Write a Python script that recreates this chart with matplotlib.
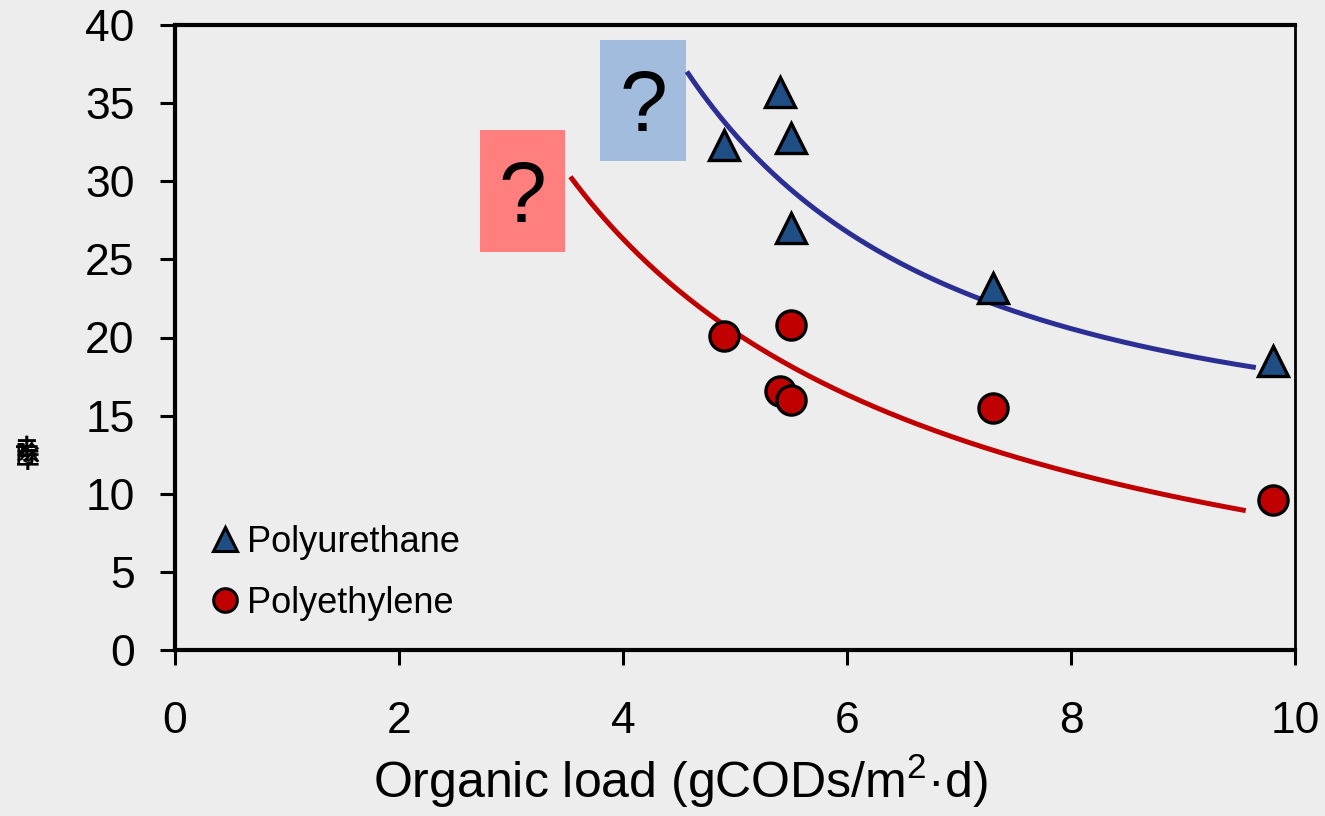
import numpy as np
import matplotlib
matplotlib.use("Agg")
import matplotlib.pyplot as plt
from matplotlib.patches import Rectangle
from matplotlib.lines import Line2D

# ---------------- data ----------------
pu_x = [4.9, 5.4, 5.5, 5.5, 7.3, 9.8]
pu_y = [32.3, 35.7, 32.8, 27.0, 23.2, 18.5]
pe_x = [4.9, 5.4, 5.5, 5.5, 7.3, 9.8]
pe_y = [20.1, 16.6, 20.8, 16.0, 15.5, 9.6]

# trend lines: PU: y = c + k/x^2 ; PE: y = c + k/x
pu_trend_c, pu_trend_k = 12.6, 510.0
pu_trend_range = (4.57, 9.65)
pe_trend_c, pe_trend_k = -3.59, 119.6
pe_trend_range = (3.53, 9.56)

series_labels = ["Polyurethane", "Polyethylene"]
x_ticks = [0, 2, 4, 6, 8, 10]
y_ticks = [0, 5, 10, 15, 20, 25, 30, 35, 40]
x_label = "Organic load (gCODs/m$^{2}$\u00b7d)"
y_label = "去除率"

# ---------------- style ----------------
BG = "#EDEDED"
plt.rcParams["font.family"] = ["Liberation Sans", "Noto Sans CJK SC", "DejaVu Sans"]
plt.rcParams["mathtext.fontset"] = "custom"
plt.rcParams["mathtext.rm"] = "Liberation Sans"
plt.rcParams["mathtext.default"] = "regular"

fig = plt.figure(figsize=(13.25, 8.16), dpi=100, facecolor=BG)
ax = fig.add_axes([175/1325, 1-650/816, (1295-175)/1325, (650-25)/816])
ax.set_facecolor(BG)

ax.set_xlim(0, 10)
ax.set_ylim(0, 40)

# trend curves
xs = np.linspace(*pu_trend_range, 200)
ax.plot(xs, pu_trend_c + pu_trend_k / xs**2, color="#2B2F93", lw=3.6, zorder=2,
        solid_capstyle="butt")
xs2 = np.linspace(*pe_trend_range, 200)
ax.plot(xs2, pe_trend_c + pe_trend_k / xs2, color="#C00000", lw=3.6, zorder=2,
        solid_capstyle="butt")

# points
ax.plot(pu_x, pu_y, linestyle="none", marker="^", ms=21, mfc="#1F4E85",
        mec="black", mew=2.4, zorder=3)
ax.plot(pe_x, pe_y, linestyle="none", marker="o", ms=21, mfc="#C00000",
        mec="black", mew=2.4, zorder=3)

# question boxes
ax.add_patch(Rectangle((2.723, 25.47), 0.759, 7.81, facecolor="#FF7F7F",
                       edgecolor="none", zorder=1))
ax.text(2.723 + 0.759/2, 25.47 + 7.81/2, "?", fontsize=62, ha="center",
        va="center_baseline", zorder=4)
ax.add_patch(Rectangle((3.795, 31.3), 0.767, 7.74, facecolor="#A2BCDD",
                       edgecolor="none", zorder=1))
ax.text(3.795 + 0.767/2, 31.3 + 7.74/2, "?", fontsize=62, ha="center",
        va="center_baseline", zorder=4)

# axes styling
ax.set_xticks(x_ticks)
ax.set_yticks(y_ticks)
ax.tick_params(axis="both", labelsize=32, width=2.2, length=11, color="black")
ax.tick_params(axis="y", pad=18)
ax.tick_params(axis="x", pad=26)
for side in ["left", "top", "bottom"]:
    ax.spines[side].set_linewidth(3.0)
ax.spines["right"].set_linewidth(2.0)

ax.set_xlabel(x_label, fontsize=36)
ax.xaxis.set_label_coords((680-175)/1120, -0.163)

fig.text(27/1325, 1-455/816, "\n".join(list(y_label)), fontsize=17,
         linespacing=0.05, ha="center", va="center",
         family=["Noto Sans CJK SC", "DejaVu Sans"], fontweight="bold")

handles = [
    Line2D([], [], linestyle="none", marker="^", ms=17, mfc="#1F4E85", mec="black", mew=2.2),
    Line2D([], [], linestyle="none", marker="o", ms=17, mfc="#C00000", mec="black", mew=2.2),
]
ax.legend(handles, series_labels, loc="upper left", bbox_to_anchor=(0.035, 0.20),
          frameon=False, fontsize=26, handlelength=0.6, handletextpad=0.3,
          labelspacing=0.72, borderaxespad=0, borderpad=0)

fig.savefig("out.png", dpi=100, facecolor=BG)
